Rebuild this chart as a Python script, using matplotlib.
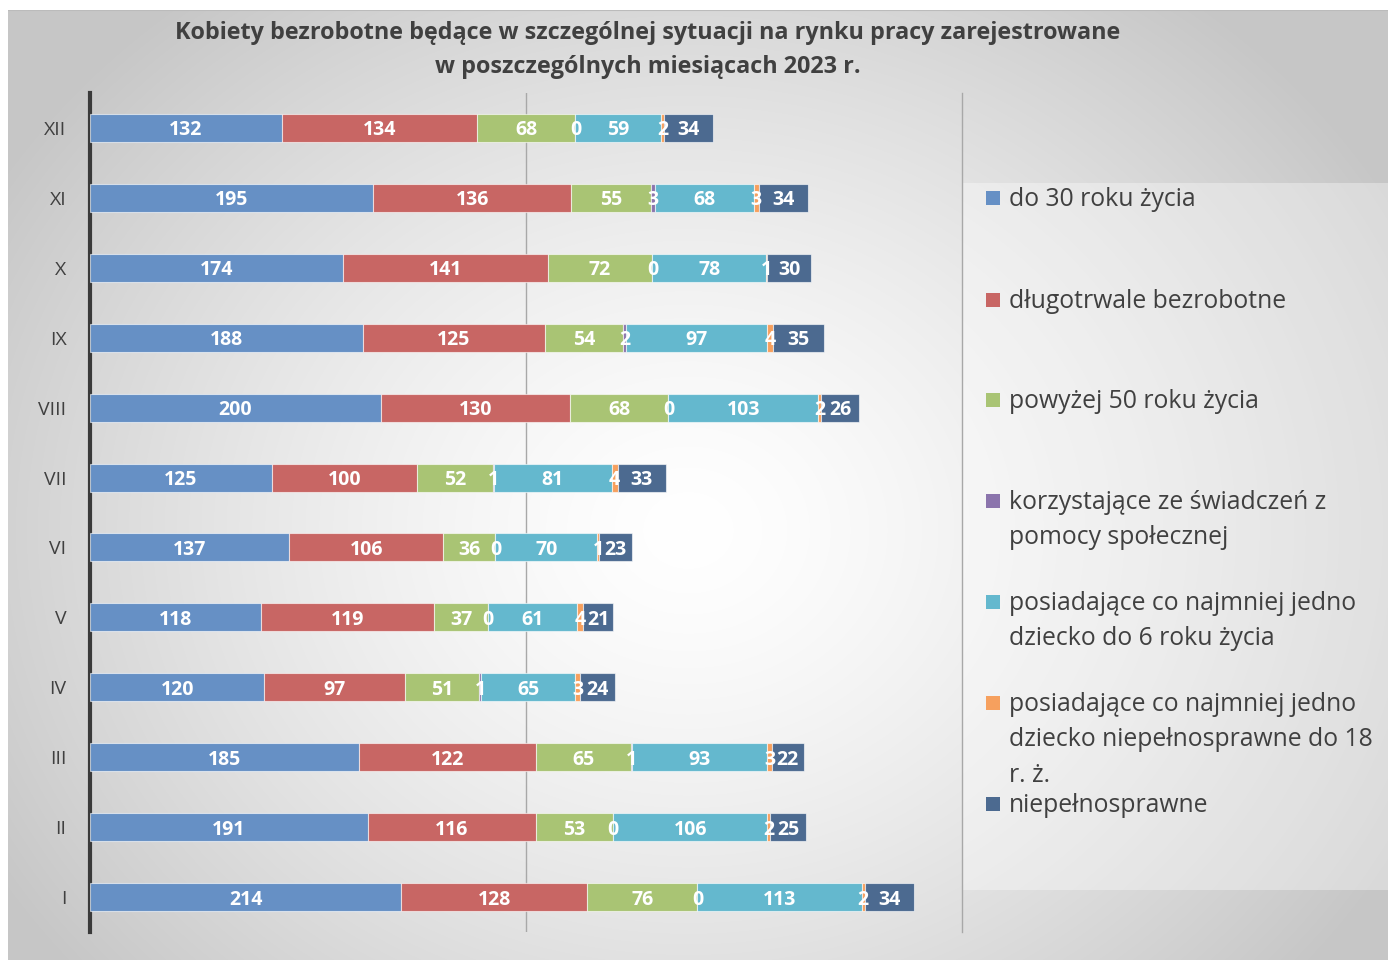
import numpy as np
import matplotlib
matplotlib.use("Agg")
import matplotlib.pyplot as plt
from matplotlib.patches import Rectangle

plt.rcParams['font.family'] = ['Open Sans', 'DejaVu Sans']

months = ["I", "II", "III", "IV", "V", "VI", "VII", "VIII", "IX", "X", "XI", "XII"]
series_names = [
    "do 30 roku życia",
    "długotrwale bezrobotne",
    "powyżej 50 roku życia",
    "korzystające ze świadczeń z\npomocy społecznej",
    "posiadające co najmniej jedno\ndziecko do 6 roku życia",
    "posiadające co najmniej jedno\ndziecko niepełnosprawne do 18\nr. ż.",
    "niepełnosprawne",
]
do30 = [214, 191, 185, 120, 118, 137, 125, 200, 188, 174, 195, 132]
dlugotrwale = [128, 116, 122, 97, 119, 106, 100, 130, 125, 141, 136, 134]
powyzej50 = [76, 53, 65, 51, 37, 36, 52, 68, 54, 72, 55, 68]
pomoc = [0, 0, 1, 1, 0, 0, 1, 0, 2, 0, 3, 0]
dziecko6 = [113, 106, 93, 65, 61, 70, 81, 103, 97, 78, 68, 59]
dziecko18 = [2, 2, 3, 3, 4, 1, 4, 2, 4, 1, 3, 2]
niepelno = [34, 25, 22, 24, 21, 23, 33, 26, 35, 30, 34, 34]
data = [do30, dlugotrwale, powyzej50, pomoc, dziecko6, dziecko18, niepelno]
colors = ["#6690C5", "#C86664", "#A9C474", "#8B74AC", "#64B8CE", "#F6A05E", "#4C6A90"]

W, H = 1388, 960
fig = plt.figure(figsize=(W / 100, H / 100), dpi=100)

# background radial gradient
bg = fig.add_axes([8 / W, 0, 1 - 8 / W, 1 - 10 / H])
bg.set_axis_off()
yy, xx = np.mgrid[0:950, 0:1380]
cx, cy = 680, 520
d = np.sqrt(((xx - cx) / 1.0) ** 2 + ((yy - cy) / 0.85) ** 2)
t = np.clip(d / 800, 0, 1) ** 1.4
lum = 1.0 - 0.22 * t
img = np.dstack([lum, lum, lum])
bg.imshow(img, extent=[0, 1, 0, 1], aspect='auto', origin='upper')
bg.set_xlim(0, 1)
bg.set_ylim(0, 1)
bg.axhline(1, color='#bbbbbb', linewidth=1.5)
# legend panel
bg.add_patch(Rectangle(((962 - 8) / 1380, (960 - 890) / 950), (1388 - 962) / 1380, (890 - 183) / 950,
                       facecolor='white', alpha=0.35, edgecolor='none'))

ax = fig.add_axes([90 / W, 28 / H, (962 - 90) / W, (932 - 93) / H])
ax.patch.set_alpha(0)
y = np.arange(len(months))
left = np.zeros(len(months))
for vals, col in zip(data, colors):
    vals = np.array(vals, dtype=float)
    ax.barh(y, vals, left=left, height=0.4, color=col, edgecolor=(1, 1, 1, 0.6), linewidth=0.8, zorder=3)
    for yi, (l, v) in enumerate(zip(left, vals)):
        ax.text(l + v / 2, yi, f"{int(v)}", ha='center', va='center_baseline', color='white',
                fontsize=14, fontweight='bold', zorder=4)
    left += vals

ax.set_xlim(0, 600)
ax.set_ylim(-0.5, len(months) - 0.5)
ax.set_yticks(y)
ax.set_yticklabels(months, fontsize=14, color='#404040')
ax.set_xticks([])
ax.tick_params(axis='y', length=0, pad=17)
for s in ['top', 'bottom']:
    ax.spines[s].set_visible(False)
ax.spines['left'].set_color('#3a3a3a')
ax.spines['left'].set_linewidth(3)
ax.spines['right'].set_color('#a8a8a8')
ax.spines['right'].set_linewidth(1)
ax.axvline(300, color='#a8a8a8', linewidth=1, zorder=1)

fig.text(648 / W, 1 - 33 / H, "Kobiety bezrobotne będące w szczególnej sytuacji na rynku pracy zarejestrowane",
         ha='center', va='center', fontsize=16.8, fontweight='bold', color='#404040')
fig.text(648 / W, 1 - 67 / H, "w poszczególnych miesiącach 2023 r.",
         ha='center', va='center', fontsize=16.8, fontweight='bold', color='#404040')

# legend (manual)
leg_y = [198, 300, 400, 501, 602, 703, 804]
for name, col, ly in zip(series_names, colors, leg_y):
    fig.patches.append(Rectangle((986 / W, 1 - (ly + 7) / H), 14 / W, 14 / H, facecolor=col,
                                 edgecolor='none', transform=fig.transFigure, figure=fig))
    fig.text(1009 / W, 1 - (ly - 11) / H, name, ha='left', va='top', fontsize=17.8,
             color='#404040', linespacing=1.55)

fig.savefig("out.png", dpi=100)
